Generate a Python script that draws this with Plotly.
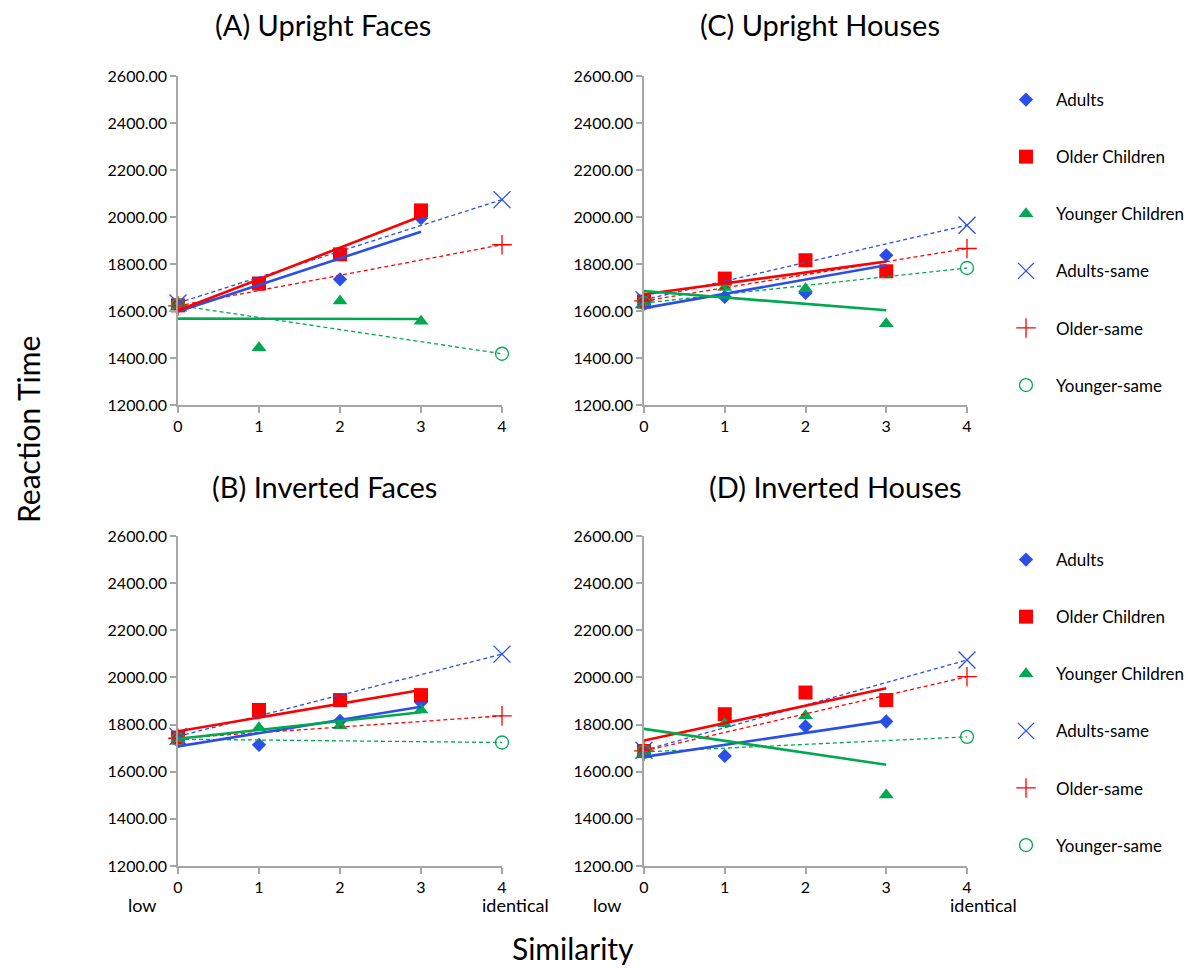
import numpy as np
import plotly.graph_objects as go

# ---------------- data ----------------
x_main = [0, 1, 2, 3]
x_same = [0, 4]
series_names = ["Adults", "Older Children", "Younger Children", "Adults-same", "Older-same", "Younger-same"]

# (A) Upright Faces
A_adults = [1625, 1715, 1735, 1995]
A_older = [1624, 1717, 1841, 2028]
A_younger = [1624, 1444, 1643, 1556]
A_adults_same = [1634, 2074]
A_older_same = [1622, 1882]
A_younger_same = [1624, 1418]

# (C) Upright Houses
C_adults = [1640, 1660, 1677, 1837]
C_older = [1640, 1738, 1816, 1769]
C_younger = [1635, 1700, 1695, 1546]
C_adults_same = [1648, 1965]
C_older_same = [1643, 1866]
C_younger_same = [1634, 1783]

# (B) Inverted Faces
B_adults = [1742, 1714, 1816, 1895]
B_older = [1745, 1862, 1904, 1925]
B_younger = [1740, 1787, 1795, 1862]
B_adults_same = [1750, 2099]
B_older_same = [1742, 1837]
B_younger_same = [1738, 1724]

# (D) Inverted Houses
D_adults = [1685, 1667, 1792, 1813]
D_older = [1688, 1844, 1936, 1904]
D_younger = [1681, 1804, 1837, 1501]
D_adults_same = [1691, 2074]
D_older_same = [1688, 2003]
D_younger_same = [1684, 1748]

panel_titles = ["(A) Upright Faces", "(C) Upright Houses", "(B) Inverted Faces", "(D) Inverted Houses"]
y_ticks = [1200, 1400, 1600, 1800, 2000, 2200, 2400, 2600]
x_ticks = [0, 1, 2, 3, 4]

# ---------------- style ----------------
W, H = 1198, 968
OFF = 8  # default page body margin
FW, FH = W - OFF, H - OFF
FONT = "Lato, Carlito, Calibri, sans-serif"
BLUE = "#2A4FE6"
RED = "#FF0000"
GREEN = "#00A850"
AXIS = "#A6A6A6"

def px_x(p):
    return (p - OFF) / FW

def px_y(p):
    return 1 - (p - OFF) / FH

# panel pixel boxes in page coordinates (x0, x1, ytop, ybottom)
boxes = [
    (178, 502, 76, 405),
    (644, 967, 76, 405),
    (178, 502, 536, 866),
    (644, 967, 536, 866),
]
title_pos = [(323, 24), (820, 24), (324, 486), (835, 486)]

panels = [
    (A_adults, A_older, A_younger, A_adults_same, A_older_same, A_younger_same),
    (C_adults, C_older, C_younger, C_adults_same, C_older_same, C_younger_same),
    (B_adults, B_older, B_younger, B_adults_same, B_older_same, B_younger_same),
    (D_adults, D_older, D_younger, D_adults_same, D_older_same, D_younger_same),
]
legend_of_panel = {1: "legend", 3: "legend2"}

colors = [BLUE, RED, GREEN, BLUE, RED, GREEN]
symbols = ["diamond", "square", "triangle-up", "x-thin-open", "cross-thin-open", "circle-open"]
sizes = [11, 14, 13, 17, 14, 13]

fig = go.Figure()
layout = {}

for i, (vals, box) in enumerate(zip(panels, boxes)):
    ax = "" if i == 0 else str(i + 1)
    xa, ya = "x" + ax, "y" + ax
    x0, x1, yt, yb = box
    layout["xaxis" + ax] = dict(
        domain=[px_x(x0), px_x(x1)], range=[0, 4], anchor=ya, automargin=False,
        tickvals=x_ticks, ticks="outside", ticklen=6, tickcolor=AXIS, tickwidth=1.5,
        showline=True, linecolor=AXIS, linewidth=1.5, showgrid=False, zeroline=False,
        tickfont=dict(family=FONT, size=16, color="black"),
    )
    layout["yaxis" + ax] = dict(
        domain=[px_y(yb), px_y(yt)], range=[1200, 2600], anchor=xa, automargin=False,
        tickvals=y_ticks, tickformat=".2f", ticks="outside", ticklen=6, tickcolor=AXIS, tickwidth=1.5,
        showline=True, linecolor=AXIS, linewidth=1.5, showgrid=False, zeroline=False,
        tickfont=dict(family=FONT, size=16, color="black"),
    )
    leg = legend_of_panel.get(i)
    # markers
    for k in range(6):
        xs = x_main if k < 3 else x_same
        fig.add_trace(go.Scatter(
            x=xs, y=vals[k], mode="markers", name=series_names[k],
            xaxis=xa, yaxis=ya, cliponaxis=False,
            marker=dict(symbol=symbols[k], size=sizes[k], color=colors[k],
                        line=dict(color=colors[k], width=1.3 if k >= 3 else 0)),
            showlegend=leg is not None, legend=leg if leg else "legend",
            legendgroup=f"g{i}_{k}",
        ))
    # dashed lines for the "same" series (line through the two points)
    for k in range(3, 6):
        fig.add_trace(go.Scatter(
            x=x_same, y=vals[k], mode="lines", xaxis=xa, yaxis=ya, showlegend=False,
            line=dict(color=colors[k], width=1.3, dash="4px,3px"), hoverinfo="skip",
        ))
    # linear trendlines for the main series
    for k in range(3):
        slope, icpt = np.polyfit(x_main, vals[k], 1)
        tx = [x_main[0], x_main[-1]]
        fig.add_trace(go.Scatter(
            x=tx, y=[icpt + slope * t for t in tx], mode="lines", xaxis=xa, yaxis=ya,
            showlegend=False, line=dict(color=colors[k], width=2.6), hoverinfo="skip",
        ))

annotations = []
for t, (tx, ty) in zip(panel_titles, title_pos):
    annotations.append(dict(text=t, x=px_x(tx), y=px_y(ty), xref="paper", yref="paper",
                            xanchor="center", yanchor="middle", showarrow=False,
                            font=dict(family=FONT, size=29, color="black")))
for lx in (142, 607):
    annotations.append(dict(text="low", x=px_x(lx), y=px_y(905), xref="paper", yref="paper",
                            xanchor="center", yanchor="middle", showarrow=False,
                            font=dict(family=FONT, size=18, color="black")))
for ix in (515, 983):
    annotations.append(dict(text="identical", x=px_x(ix), y=px_y(905), xref="paper", yref="paper",
                            xanchor="center", yanchor="middle", showarrow=False,
                            font=dict(family=FONT, size=18, color="black")))
annotations.append(dict(text="Reaction Time", x=px_x(28), y=px_y(430), xref="paper", yref="paper",
                        xanchor="center", yanchor="middle", showarrow=False, textangle=-90,
                        font=dict(family=FONT, size=30, color="black")))
annotations.append(dict(text="Similarity", x=px_x(573), y=px_y(948), xref="paper", yref="paper",
                        xanchor="center", yanchor="middle", showarrow=False,
                        font=dict(family=FONT, size=30, color="black")))

legend_common = dict(
    xanchor="left", yanchor="top", bgcolor="rgba(0,0,0,0)",
    font=dict(family=FONT, size=17, color="black"), tracegroupgap=32,
    itemwidth=50,
)
fig.update_layout(
    width=FW, height=FH, margin=dict(l=0, r=0, t=0, b=0, autoexpand=False),
    paper_bgcolor="white", plot_bgcolor="white",
    annotations=annotations,
    legend=dict(x=px_x(996), y=px_y(82), **legend_common),
    legend2=dict(x=px_x(996), y=px_y(542), **legend_common),
    **layout,
)

fig.write_html("out.html")
